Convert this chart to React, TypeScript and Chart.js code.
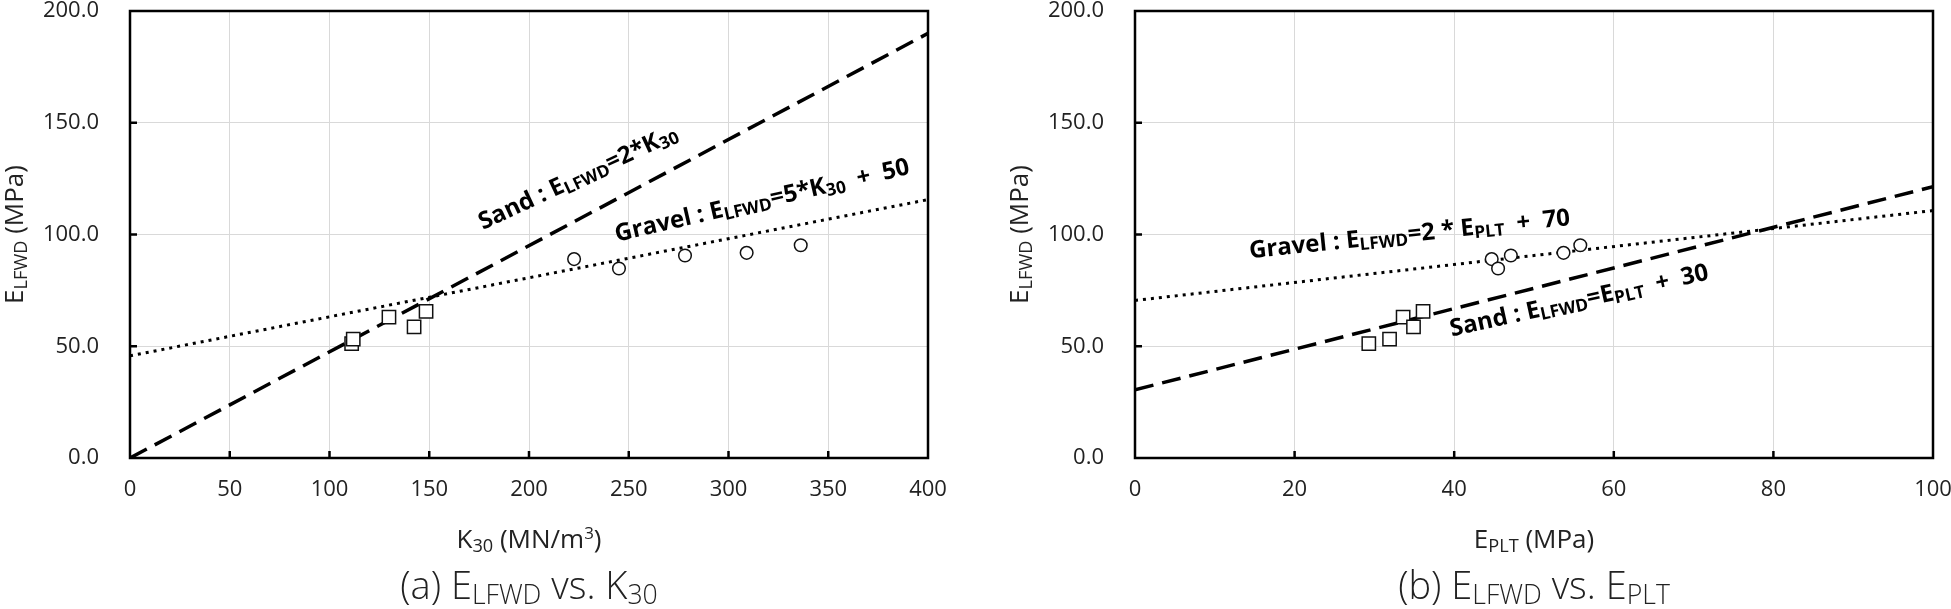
import React, { useEffect, useRef } from 'react';
import { Chart, registerables } from 'chart.js';

Chart.register(...registerables);

const FONT = '"Open Sans", "Noto Sans", "DejaVu Sans", sans-serif';

// ---- data ----
const sandELFWD = [51.2, 53.2, 63.0, 58.7, 65.6];
const gravelELFWD = [89.0, 84.8, 90.6, 91.8, 95.2];

const sandK30 = [111.1, 111.9, 129.8, 142.4, 148.4];
const gravelK30 = [222.6, 245.1, 278.2, 309.1, 336.2];

const sandEPLT = [29.3, 31.9, 33.6, 34.9, 36.1];
const gravelEPLT = [44.7, 45.5, 47.1, 53.7, 55.8];

const fitK30X = [0, 400];
const sandFitK30 = [0, 190];
const gravelFitK30 = [45.7, 115.6];

const fitEPLTX = [0, 100];
const sandFitEPLT = [30.5, 121.4];
const gravelFitEPLT = [70.5, 110.7];

const yRange = [0, 200];
const yStep = 50;
const k30Range = [0, 400];
const k30Step = 50;
const epltRange = [0, 100];
const epltStep = 20;

type Seg = [string, number]; // 0 normal, 1 subscript, 2 superscript

const leftNotes = [
  { x: 177, y: 102, angle: -25, segs: [['Sand : E', 0], ['LFWD', 1], ['=2*K', 0], ['30', 1]] as Seg[] },
  { x: 244, y: 96.8, angle: -13, segs: [['Gravel : E', 0], ['LFWD', 1], ['=5*K', 0], ['30', 1], ['  +  50', 0]] as Seg[] },
];
const rightNotes = [
  { x: 14.4, y: 89.4, angle: -5.9, segs: [['Gravel : E', 0], ['LFWD', 1], ['=2 * E', 0], ['PLT', 1], ['  +  70', 0]] as Seg[] },
  { x: 39.7, y: 54.4, angle: -12.5, segs: [['Sand : E', 0], ['LFWD', 1], ['=E', 0], ['PLT', 1], ['  +  30', 0]] as Seg[] },
];

const yTitle: Seg[] = [['E', 0], ['LFWD', 1], [' (MPa)', 0]];
const leftXTitle: Seg[] = [['K', 0], ['30', 1], [' (MN/m', 0], ['3', 2], [')', 0]];
const rightXTitle: Seg[] = [['E', 0], ['PLT', 1], [' (MPa)', 0]];
const leftCaption: Seg[] = [['(a) E', 0], ['LFWD', 1], [' vs. K', 0], ['30', 1]];
const rightCaption: Seg[] = [['(b) E', 0], ['LFWD', 1], [' vs. E', 0], ['PLT', 1]];

function zip(xs: number[], ys: number[]) {
  return xs.map((x, i) => ({ x, y: ys[i] }));
}

function drawRich(
  ctx: CanvasRenderingContext2D,
  segs: Seg[],
  x: number,
  y: number,
  angle: number,
  size: number,
  weight: string,
  align: 'left' | 'center',
  color: string,
  subRatio = 0.7
) {
  const fontFor = (m: number) =>
    `${weight} ${m === 0 ? size : m === 1 ? size * subRatio : size * 0.65}px ${FONT}`;
  let w = 0;
  for (const [t, m] of segs) {
    ctx.font = fontFor(m);
    w += ctx.measureText(t).width;
  }
  ctx.save();
  ctx.translate(x, y);
  ctx.rotate(angle);
  ctx.fillStyle = color;
  ctx.textBaseline = 'alphabetic';
  ctx.textAlign = 'left';
  let cx = align === 'center' ? -w / 2 : 0;
  for (const [t, m] of segs) {
    ctx.font = fontFor(m);
    const dy = m === 1 ? size * 0.14 : m === 2 ? -size * 0.36 : 0;
    ctx.fillText(t, cx, dy);
    cx += ctx.measureText(t).width;
  }
  ctx.restore();
}

const decorPlugin = {
  id: 'decor',
  afterDatasetsDraw(chart: any, _args: any, o: any) {
    const ctx: CanvasRenderingContext2D = chart.ctx;
    const { left, top, right, bottom } = chart.chartArea;
    const xs = chart.scales.x;
    const ys = chart.scales.y;
    ctx.save();
    // frame
    ctx.strokeStyle = '#000';
    ctx.lineWidth = 2.5;
    ctx.strokeRect(left, top, right - left, bottom - top);
    // inner tick marks
    ctx.beginPath();
    xs.ticks.forEach((t: any) => {
      if (t.value > xs.min && t.value < xs.max) {
        const px = xs.getPixelForValue(t.value);
        ctx.moveTo(px, bottom);
        ctx.lineTo(px, bottom - 7);
      }
    });
    ys.ticks.forEach((t: any) => {
      if (t.value > ys.min && t.value < ys.max) {
        const py = ys.getPixelForValue(t.value);
        ctx.moveTo(left, py);
        ctx.lineTo(left + 7, py);
      }
    });
    ctx.stroke();
    // annotations
    for (const n of o.notes) {
      drawRich(
        ctx,
        n.segs,
        xs.getPixelForValue(n.x),
        ys.getPixelForValue(n.y),
        (n.angle * Math.PI) / 180,
        24,
        'bold',
        'left',
        '#000',
        0.72
      );
    }
    // axis titles
    const cxp = (left + right) / 2;
    drawRich(ctx, o.xTitle, cxp, bottom + 90, 0, 26, 'normal', 'center', '#222');
    drawRich(ctx, o.yTitle, left - 107, (top + bottom) / 2, -Math.PI / 2, 26, 'normal', 'center', '#222');
    // caption
    drawRich(ctx, o.caption, cxp, bottom + 141, 0, 38, '300', 'center', '#222', 0.7);
    ctx.restore();
  },
};

type Spec = {
  sandX: number[];
  gravelX: number[];
  fitX: number[];
  sandFit: number[];
  gravelFit: number[];
  xRange: number[];
  xStep: number;
  padLeft: number;
  padRight: number;
  yWidth: number;
  notes: any[];
  xTitle: Seg[];
  caption: Seg[];
};

const leftSpec: Spec = {
  sandX: sandK30,
  gravelX: gravelK30,
  fitX: fitK30X,
  sandFit: sandFitK30,
  gravelFit: gravelFitK30,
  xRange: k30Range,
  xStep: k30Step,
  padLeft: 0,
  padRight: 1023,
  yWidth: 130,
  notes: leftNotes,
  xTitle: leftXTitle,
  caption: leftCaption,
};

const rightSpec: Spec = {
  sandX: sandEPLT,
  gravelX: gravelEPLT,
  fitX: fitEPLTX,
  sandFit: sandFitEPLT,
  gravelFit: gravelFitEPLT,
  xRange: epltRange,
  xStep: epltStep,
  padLeft: 1000,
  padRight: 18,
  yWidth: 135,
  notes: rightNotes,
  xTitle: rightXTitle,
  caption: rightCaption,
};

function makeConfig(p: Spec): any {
  return {
    type: 'scatter',
    data: {
      datasets: [
        {
          label: 'Sand',
          data: zip(p.sandX, sandELFWD),
          pointStyle: 'rect',
          pointRadius: 9.4,
          backgroundColor: '#fff',
          borderColor: '#111',
          borderWidth: 1.5,
          order: 0,
        },
        {
          label: 'Gravel',
          data: zip(p.gravelX, gravelELFWD),
          pointStyle: 'circle',
          pointRadius: 6.3,
          backgroundColor: '#fff',
          borderColor: '#111',
          borderWidth: 1.5,
          order: 0,
        },
        {
          label: 'Sand fit',
          data: zip(p.fitX, p.sandFit),
          showLine: true,
          pointRadius: 0,
          borderColor: '#000',
          borderWidth: 3.5,
          borderDash: [19, 9],
          fill: false,
          order: 1,
        },
        {
          label: 'Gravel fit',
          data: zip(p.fitX, p.gravelFit),
          showLine: true,
          pointRadius: 0,
          borderColor: '#000',
          borderWidth: 3,
          borderDash: [3, 5],
          fill: false,
          order: 1,
        },
      ],
    },
    options: {
      responsive: false,
      maintainAspectRatio: false,
      animation: false,
      events: [],
      layout: { padding: { left: p.padLeft, top: 11, right: p.padRight, bottom: 91 } },
      plugins: {
        legend: { display: false },
        tooltip: { enabled: false },
        decor: { notes: p.notes, xTitle: p.xTitle, yTitle: yTitle, caption: p.caption },
      },
      scales: {
        x: {
          type: 'linear',
          min: p.xRange[0],
          max: p.xRange[1],
          ticks: {
            stepSize: p.xStep,
            padding: 19,
            maxRotation: 0,
            autoSkip: false,
            color: '#222',
            font: { family: FONT, size: 22 },
          },
          grid: { color: '#d9d9d9', lineWidth: 1, drawTicks: false },
          border: { display: false },
          afterFit(s: any) {
            s.height = 60;
            s.paddingLeft = 0;
            s.paddingRight = 0;
          },
        },
        y: {
          type: 'linear',
          min: yRange[0],
          max: yRange[1],
          ticks: {
            stepSize: yStep,
            padding: 31,
            color: '#222',
            font: { family: FONT, size: 22 },
            callback: (v: any) => Number(v).toFixed(1),
          },
          grid: { color: '#d9d9d9', lineWidth: 1, drawTicks: false },
          border: { display: false },
          afterFit(s: any) {
            s.width = p.yWidth;
            s.paddingTop = 0;
            s.paddingBottom = 0;
          },
        },
      },
    },
    plugins: [decorPlugin],
  };
}

function Panel({ spec }: { spec: Spec }) {
  const ref = useRef<HTMLCanvasElement | null>(null);
  useEffect(() => {
    if (!ref.current) return;
    const chart = new Chart(ref.current, makeConfig(spec));
    return () => chart.destroy();
  }, [spec]);
  return (
    <canvas
      ref={ref}
      width={1951}
      height={609}
      style={{ position: 'absolute', left: 0, top: 0, width: 1951, height: 609 }}
    />
  );
}

export default function App() {
  return (
    <div
      style={{
        position: 'absolute',
        left: 0,
        top: 0,
        width: 1951,
        height: 609,
        background: '#fff',
        overflow: 'hidden',
      }}
    >
      <Panel spec={leftSpec} />
      <Panel spec={rightSpec} />
    </div>
  );
}
